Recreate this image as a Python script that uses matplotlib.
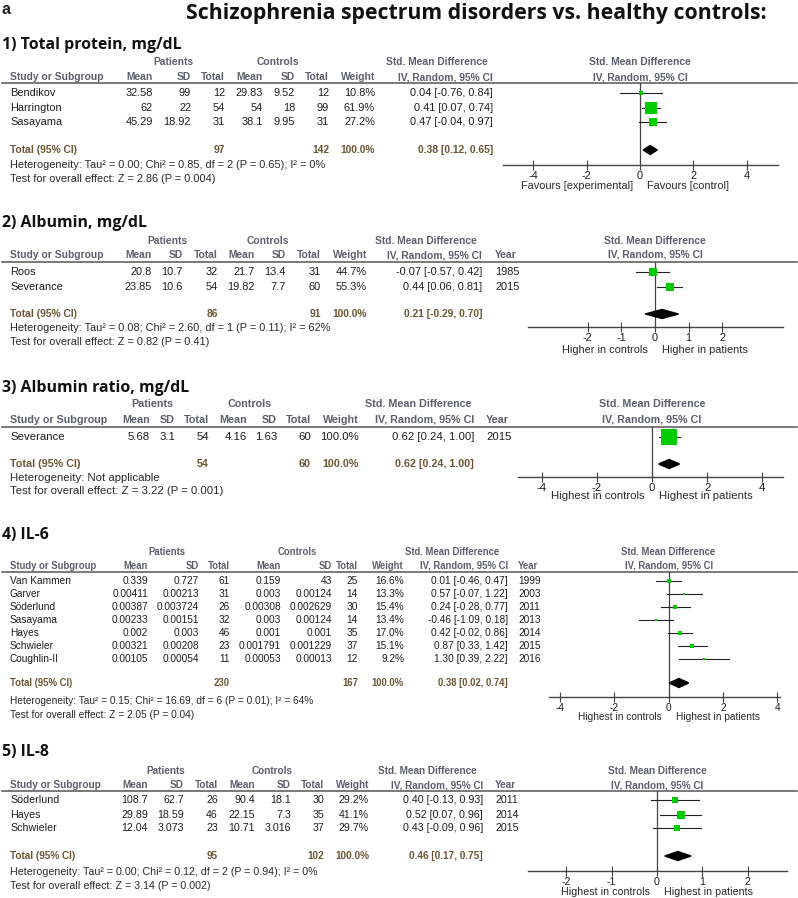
import numpy as np
import matplotlib
matplotlib.use("Agg")
import matplotlib.pyplot as plt
from matplotlib.patches import Polygon

W, H = 798, 898
TXT = "Liberation Sans"
HEAD = "Open Sans"
HDR_C = "#5d5f6c"
TOT_C = "#6b5735"
INK = "#1e1e1e"
GREEN = "#00cc00"

# ---- 1) Total protein
p1_title = "1) Total protein, mg/dL"
p1_study = ["Bendikov", "Harrington", "Sasayama"]
p1_pat_mean = ["32.58", "62", "45.29"]
p1_pat_sd = ["99", "22", "18.92"]
p1_pat_n = [12, 54, 31]
p1_ctl_mean = ["29.83", "54", "38.1"]
p1_ctl_sd = ["9.52", "18", "9.95"]
p1_ctl_n = [12, 99, 31]
p1_weight = [10.8, 61.9, 27.2]
p1_smd = [0.04, 0.41, 0.47]
p1_lo = [-0.76, 0.07, -0.04]
p1_hi = [0.84, 0.74, 0.97]
p1_year = None
p1_total = [97, 142, 0.38, 0.12, 0.65]
p1_het = "Heterogeneity: Tau² = 0.00; Chi² = 0.85, df = 2 (P = 0.65); I² = 0%"
p1_test = "Test for overall effect: Z = 2.86 (P = 0.004)"
p1_labels = ["Favours [experimental]", "Favours [control]"]
p1_ticks = [-4, -2, 0, 2, 4]

# ---- 2) Albumin
p2_title = "2) Albumin, mg/dL"
p2_study = ["Roos", "Severance"]
p2_pat_mean = ["20.8", "23.85"]
p2_pat_sd = ["10.7", "10.6"]
p2_pat_n = [32, 54]
p2_ctl_mean = ["21.7", "19.82"]
p2_ctl_sd = ["13.4", "7.7"]
p2_ctl_n = [31, 60]
p2_weight = [44.7, 55.3]
p2_smd = [-0.07, 0.44]
p2_lo = [-0.57, 0.06]
p2_hi = [0.42, 0.81]
p2_year = [1985, 2015]
p2_total = [86, 91, 0.21, -0.29, 0.70]
p2_het = "Heterogeneity: Tau² = 0.08; Chi² = 2.60, df = 1 (P = 0.11); I² = 62%"
p2_test = "Test for overall effect: Z = 0.82 (P = 0.41)"
p2_labels = ["Higher in controls", "Higher in patients"]
p2_ticks = [-2, -1, 0, 1, 2]

# ---- 3) Albumin ratio
p3_title = "3) Albumin ratio, mg/dL"
p3_study = ["Severance"]
p3_pat_mean = ["5.68"]
p3_pat_sd = ["3.1"]
p3_pat_n = [54]
p3_ctl_mean = ["4.16"]
p3_ctl_sd = ["1.63"]
p3_ctl_n = [60]
p3_weight = [100.0]
p3_smd = [0.62]
p3_lo = [0.24]
p3_hi = [1.00]
p3_year = [2015]
p3_total = [54, 60, 0.62, 0.24, 1.00]
p3_het = "Heterogeneity: Not applicable"
p3_test = "Test for overall effect: Z = 3.22 (P = 0.001)"
p3_labels = ["Highest in controls", "Highest in patients"]
p3_ticks = [-4, -2, 0, 2, 4]

# ---- 4) IL-6
p4_title = "4) IL-6"
p4_study = ["Van Kammen", "Garver", "Söderlund", "Sasayama", "Hayes", "Schwieler", "Coughlin-II"]
p4_pat_mean = ["0.339", "0.00411", "0.00387", "0.00233", "0.002", "0.00321", "0.00105"]
p4_pat_sd = ["0.727", "0.00213", "0.003724", "0.00151", "0.003", "0.00208", "0.00054"]
p4_pat_n = [61, 31, 26, 32, 46, 23, 11]
p4_ctl_mean = ["0.159", "0.003", "0.00308", "0.003", "0.001", "0.001791", "0.00053"]
p4_ctl_sd = ["43", "0.00124", "0.002629", "0.00124", "0.001", "0.001229", "0.00013"]
p4_ctl_n = [25, 14, 30, 14, 35, 37, 12]
p4_weight = [16.6, 13.3, 15.4, 13.4, 17.0, 15.1, 9.2]
p4_smd = [0.01, 0.57, 0.24, -0.46, 0.42, 0.87, 1.30]
p4_lo = [-0.46, -0.07, -0.28, -1.09, -0.02, 0.33, 0.39]
p4_hi = [0.47, 1.22, 0.77, 0.18, 0.86, 1.42, 2.22]
p4_year = [1999, 2003, 2011, 2013, 2014, 2015, 2016]
p4_total = [230, 167, 0.38, 0.02, 0.74]
p4_het = "Heterogeneity: Tau² = 0.15; Chi² = 16.69, df = 6 (P = 0.01); I² = 64%"
p4_test = "Test for overall effect: Z = 2.05 (P = 0.04)"
p4_labels = ["Highest in controls", "Highest in patients"]
p4_ticks = [-4, -2, 0, 2, 4]

# ---- 5) IL-8
p5_title = "5) IL-8"
p5_study = ["Söderlund", "Hayes", "Schwieler"]
p5_pat_mean = ["108.7", "29.89", "12.04"]
p5_pat_sd = ["62.7", "18.59", "3.073"]
p5_pat_n = [26, 46, 23]
p5_ctl_mean = ["90.4", "22.15", "10.71"]
p5_ctl_sd = ["18.1", "7.3", "3.016"]
p5_ctl_n = [30, 35, 37]
p5_weight = [29.2, 41.1, 29.7]
p5_smd = [0.40, 0.52, 0.43]
p5_lo = [-0.13, 0.07, -0.09]
p5_hi = [0.93, 0.96, 0.96]
p5_year = [2011, 2014, 2015]
p5_total = [95, 102, 0.46, 0.17, 0.75]
p5_het = "Heterogeneity: Tau² = 0.00; Chi² = 0.12, df = 2 (P = 0.94); I² = 0%"
p5_test = "Test for overall effect: Z = 3.14 (P = 0.002)"
p5_labels = ["Highest in controls", "Highest in patients"]
p5_ticks = [-2, -1, 0, 1, 2]

# layout of each panel in pixels (y from top)
layouts = [
    dict(title=45, h1=62, h2=77, line=83, rows=[93, 108, 122], tot=150, het=165, test=179,
         cols=[153, 191, 225, 263, 295, 329, 375], pat_c=173, ctl_c=278, ci_r=493, year_l=None,
         f_l=503, f_r=778, axis=165, lab=186, xlim=(-5.13, 5.17), sq=1.4, fs=7.9),
    dict(title=223, h1=241, h2=255, line=262, rows=[272, 287], tot=314, het=328, test=342,
         cols=[152, 183, 218, 255, 286, 321, 367], pat_c=167, ctl_c=268, ci_r=482, year_l=495,
         f_l=528, f_r=783, axis=327, lab=350, xlim=(-3.77, 3.8), sq=1.05, fs=7.9),
    dict(title=388, h1=404, h2=420, line=427, rows=[437], tot=464, het=478, test=491,
         cols=[150, 175, 209, 247, 277, 311, 359], pat_c=152, ctl_c=250, ci_r=474, year_l=486,
         f_l=518, f_r=783, axis=477, lab=496, xlim=(-4.86, 4.75), sq=1.6, fs=8.2),
    dict(title=535, h1=552, h2=566, line=572, rows=[581, 594, 607, 620, 633, 646, 659], tot=683,
         het=701, test=715, cols=[148, 199, 230, 281, 332, 358, 404], pat_c=167, ctl_c=297,
         ci_r=508, year_l=518, f_l=549, f_r=780, axis=697, lab=717, xlim=(-4.4, 4.1), sq=0.8,
         fs=7.3),
    dict(title=752, h1=771, h2=785, line=791, rows=[800, 815, 828], tot=856, het=872, test=886,
         cols=[148, 184, 218, 255, 291, 324, 369], pat_c=166, ctl_c=272, ci_r=483, year_l=495,
         f_l=528, f_r=787, axis=871, lab=892, xlim=(-2.84, 2.86), sq=1.2, fs=7.7),
]

panels = []
for i in range(1, 6):
    g = globals()
    panels.append({k: g[f"p{i}_{k}"] for k in
                   ["title", "study", "pat_mean", "pat_sd", "pat_n", "ctl_mean", "ctl_sd", "ctl_n",
                    "weight", "smd", "lo", "hi", "year", "total", "het", "test", "labels", "ticks"]})

fig = plt.figure(figsize=(W / 100, H / 100), dpi=100)
bg = fig.add_axes([0, 0, 1, 1])
bg.set_xlim(0, W)
bg.set_ylim(H, 0)
bg.axis("off")


def t(x, y, s, size, ha="left", bold=False, color=INK, family=TXT):
    bg.text(x, y, s, ha=ha, va="center", fontsize=size, color=color, family=family,
            fontweight="bold" if bold else "normal")


def ci_text(e, l, h):
    return f"{e:.2f} [{l:.2f}, {h:.2f}]"


t(2, 9, "a", 11.5, bold=True)
t(476, 13, "Schizophrenia spectrum disorders vs. healthy controls:", 15.3, ha="center", bold=True,
  family=HEAD, color="#111111")

heads = ["Mean", "SD", "Total", "Mean", "SD", "Total", "Weight"]

for L, D in zip(layouts, panels):
    fs = L["fs"]
    fb = fs * 0.94
    t(2, L["title"], D["title"], 11.4, bold=True, family=HEAD, color="#111111")
    t(L["pat_c"], L["h1"], "Patients", fb, ha="center", bold=True, color=HDR_C)
    t(L["ctl_c"], L["h1"], "Controls", fb, ha="center", bold=True, color=HDR_C)
    t(L["ci_r"] - 56, L["h1"], "Std. Mean Difference", fb, ha="center", bold=True, color=HDR_C)
    t(10, L["h2"], "Study or Subgroup", fb, bold=True, color=HDR_C)
    for x, s in zip(L["cols"], heads):
        t(x, L["h2"], s, fb, ha="right", bold=True, color=HDR_C)
    t(L["ci_r"], L["h2"], "IV, Random, 95% CI", fb, ha="right", bold=True, color=HDR_C)
    if L["year_l"]:
        t(L["year_l"], L["h2"], "Year", fb, bold=True, color=HDR_C)
    bg.plot([2, 797], [L["line"], L["line"]], color="#555555", lw=1.1)

    for k, y in enumerate(L["rows"]):
        vals = [D["pat_mean"][k], D["pat_sd"][k], str(D["pat_n"][k]),
                D["ctl_mean"][k], D["ctl_sd"][k], str(D["ctl_n"][k]), f"{D['weight'][k]:.1f}%"]
        t(10, y, D["study"][k], fs)
        for x, s in zip(L["cols"], vals):
            t(x, y, s, fs, ha="right")
        t(L["ci_r"], y, ci_text(D["smd"][k], D["lo"][k], D["hi"][k]), fs, ha="right")
        if D["year"]:
            t(L["year_l"], y, str(D["year"][k]), fs)

    n1, n2, te, tl, th = D["total"]
    t(10, L["tot"], "Total (95% CI)", fb, bold=True, color=TOT_C)
    t(L["cols"][2], L["tot"], str(n1), fb, ha="right", bold=True, color=TOT_C)
    t(L["cols"][5], L["tot"], str(n2), fb, ha="right", bold=True, color=TOT_C)
    t(L["cols"][6], L["tot"], "100.0%", fb, ha="right", bold=True, color=TOT_C)
    t(L["ci_r"], L["tot"], ci_text(te, tl, th), fb, ha="right", bold=True, color=TOT_C)
    t(10, L["het"], D["het"], fs, color="#2a2a2a")
    t(10, L["test"], D["test"], fs, color="#2a2a2a")

    # forest plot
    fx = fig.add_axes([L["f_l"] / W, 1 - L["axis"] / H, (L["f_r"] - L["f_l"]) / W,
                       (L["axis"] - L["line"]) / H])
    fx.set_xlim(L["xlim"])
    fx.set_ylim(L["axis"], L["line"])
    fx.patch.set_alpha(0)
    for s in ["top", "left", "right"]:
        fx.spines[s].set_visible(False)
    fx.spines["bottom"].set_color("#444444")
    fx.spines["bottom"].set_linewidth(1.0)
    fx.set_yticks([])
    fx.set_xticks(D["ticks"])
    fx.set_xticklabels([f"{v:g}" for v in D["ticks"]], fontfamily=TXT)
    fx.tick_params(axis="x", direction="inout", length=7, width=0.8, color="#444444",
                   labelsize=fs, pad=0.5, labelcolor=INK)
    fx.axvline(0, color="#444444", lw=0.9, zorder=1)

    for y, e, l, h, w in zip(L["rows"], D["smd"], D["lo"], D["hi"], D["weight"]):
        fx.plot([l, h], [y, y], color="#222222", lw=0.8, zorder=2)
        side = L["sq"] * np.sqrt(w)
        fx.plot([e], [y], marker="s", ms=side * 0.72, color=GREEN, mec=GREEN, mew=0,
                zorder=3, clip_on=False)
    ty = L["tot"]
    fx.add_patch(Polygon([[tl, ty], [te, ty - 4.5], [th, ty], [te, ty + 4.5]],
                         closed=True, color="black", zorder=3))

    up1 = (L["line"] - L["h1"]) * 0.72
    up2 = (L["line"] - L["h2"]) * 0.72
    for s, off in [("Std. Mean Difference", up1), ("IV, Random, 95% CI", up2)]:
        fx.annotate(s, xy=(0, 1), xycoords=("data", "axes fraction"), xytext=(0, off),
                    textcoords="offset points", ha="center", va="center", fontsize=fb,
                    fontweight="bold", color=HDR_C, family=TXT, annotation_clip=False)
    down = -(L["lab"] - L["axis"]) * 0.72
    fx.annotate(D["labels"][0], xy=(0, 0), xycoords=("data", "axes fraction"),
                xytext=(-5, down), textcoords="offset points", ha="right", va="center",
                fontsize=fs, color="#2a2a2a", family=TXT, annotation_clip=False)
    fx.annotate(D["labels"][1], xy=(0, 0), xycoords=("data", "axes fraction"),
                xytext=(5, down), textcoords="offset points", ha="left", va="center",
                fontsize=fs, color="#2a2a2a", family=TXT, annotation_clip=False)

fig.savefig("out.png", dpi=100)
